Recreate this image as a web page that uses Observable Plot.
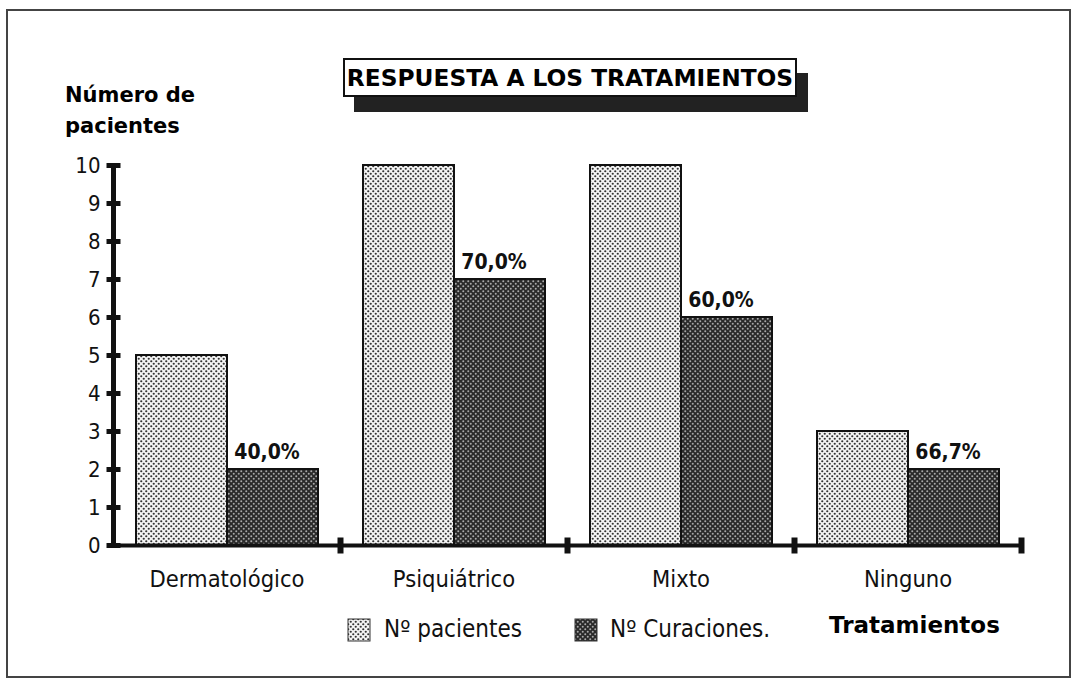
<!DOCTYPE html>
<html>
<head>
<meta charset="utf-8">
<script src="https://cdn.jsdelivr.net/npm/d3@7"></script>
<script src="https://cdn.jsdelivr.net/npm/@observablehq/plot@0.6"></script>
<style>
  body { margin: 0; background: #fff; }
  #wrap { position: relative; width: 1077px; height: 682px; overflow: hidden; background: #fff; }
  #frame { position: absolute; left: 6px; top: 9px; width: 1061px; height: 665px; border: 2px solid #444; }
  #chart { position: absolute; left: 0; top: 0; }
  #titlebox { position: absolute; left: 343px; top: 58px; width: 450px; height: 35px; border: 2px solid #111; background: #fff;
    box-shadow: 11px 15px 0 #222; font-family: "DejaVu Sans", sans-serif; font-weight: bold; font-size: 23.3px;
    line-height: 36px; text-align: center; color: #000; white-space: nowrap; }
  #ylabel { position: absolute; left: 65px; top: 80px; font-family: "DejaVu Sans", sans-serif; font-weight: bold; font-size: 21px; line-height: 31px; color: #000; }
  .leg { position: absolute; font-family: "DejaVu Sans Condensed", sans-serif; font-size: 24px; color: #111; white-space: nowrap; }
  .sw { position: absolute; }
  #xlabel { position: absolute; left: 829px; top: 612px; font-family: "DejaVu Sans", sans-serif; font-weight: bold; font-size: 23px; color: #000; }
</style>
</head>
<body>
<div id="wrap">
  <div id="frame"></div>
  <div id="chart"></div>
  <div id="titlebox"></div>
  <div id="ylabel"></div>
  <div id="legend"></div>
  <div id="xlabel"></div>
</div>
<script>
// ---- data ----
const categories = ["Dermatológico", "Psiquiátrico", "Mixto", "Ninguno"];
const seriesNames = ["Nº pacientes", "Nº Curaciones."];
const pacientes = [5, 10, 10, 3];
const curaciones = [2, 7, 6, 2];
const percentLabels = ["40,0%", "70,0%", "60,0%", "66,7%"];
const yTicks = [0, 1, 2, 3, 4, 5, 6, 7, 8, 9, 10];
const titleText = "RESPUESTA A LOS TRATAMIENTOS";
const yLabelLines = ["Número de", "pacientes"];
const xLabelText = "Tratamientos";

// ---- table built from the arrays ----
const rows = categories.flatMap((c, i) => [
  {cat: c, serie: seriesNames[0], value: pacientes[i]},
  {cat: c, serie: seriesNames[1], value: curaciones[i]}
]);
const labelRows = categories.map((c, i) => ({cat: c, serie: seriesNames[1], value: curaciones[i], label: percentLabels[i]}));

const patIds = ["patLight", "patDark"];

const hBar = {draw(ctx) { ctx.moveTo(-7, -2.5); ctx.lineTo(7, -2.5); ctx.lineTo(7, 2.5); ctx.lineTo(-7, 2.5); ctx.closePath(); }};
const vBar = {draw(ctx) { ctx.moveTo(-3, -8); ctx.lineTo(3, -8); ctx.lineTo(3, 8); ctx.lineTo(-3, 8); ctx.closePath(); }};

const chart = Plot.plot({
  width: 1077,
  height: 682,
  marginLeft: 113,
  marginRight: 56,
  marginTop: 165,
  marginBottom: 137,
  style: {background: "transparent", fontFamily: "DejaVu Sans Condensed, sans-serif", color: "#111"},
  fx: {domain: categories, padding: 0, label: null},
  x: {domain: seriesNames, paddingInner: 0, paddingOuter: 0.234, axis: null},
  y: {domain: [0, 10], axis: null},
  color: {domain: seriesNames, range: patIds.map(id => `url(#${id})`)},
  marks: [
    Plot.axisFx({anchor: "bottom", tickSize: 0, tickPadding: 25, fontSize: 23.5, label: null}),
    Plot.barY(rows, {fx: "cat", x: "serie", y: "value", fill: "serie", stroke: "#111", strokeWidth: 2}),
    Plot.text(labelRows, {fx: "cat", x: "serie", y: "value", text: "label", dy: -17, dx: -6, fontSize: 21, fontWeight: "bold", fill: "#111", textAnchor: "middle"}),
    Plot.ruleY([0], {stroke: "#111", strokeWidth: 4}),
    Plot.dot([0], {y: d => d, frameAnchor: "right", symbol: vBar, r: 4, fill: "#111", stroke: "none"}),
    Plot.frame({anchor: "left", stroke: "#111", strokeWidth: 5, facetAnchor: "left"}),
    Plot.dot(yTicks, {y: d => d, frameAnchor: "left", symbol: hBar, r: 4, fill: "#111", stroke: "none", facetAnchor: "left"}),
    Plot.axisY({ticks: yTicks, tickSize: 0, tickPadding: 13, fontSize: 22, fontFamily: "DejaVu Sans Condensed, sans-serif", label: null})
  ]
});
document.getElementById("chart").appendChild(chart);

// patterns
function addPatterns(svgSel) {
  const defs = svgSel.insert("defs", ":first-child");
  const p1 = defs.append("pattern").attr("id", "patLight").attr("patternUnits", "userSpaceOnUse").attr("width", 5).attr("height", 5);
  p1.append("rect").attr("width", 5).attr("height", 5).attr("fill", "#f4f4f4");
  p1.append("circle").attr("cx", 1.25).attr("cy", 1.25).attr("r", 1.1).attr("fill", "#333");
  p1.append("circle").attr("cx", 3.75).attr("cy", 3.75).attr("r", 1.1).attr("fill", "#333");
  const p2 = defs.append("pattern").attr("id", "patDark").attr("patternUnits", "userSpaceOnUse").attr("width", 5).attr("height", 5);
  p2.append("rect").attr("width", 5).attr("height", 5).attr("fill", "#2a2a2a");
  p2.append("circle").attr("cx", 1.25).attr("cy", 1.25).attr("r", 1.0).attr("fill", "#aaa");
  p2.append("circle").attr("cx", 3.75).attr("cy", 3.75).attr("r", 1.0).attr("fill", "#aaa");
}
addPatterns(d3.select(chart));

// title and labels
document.getElementById("titlebox").textContent = titleText;
document.getElementById("ylabel").innerHTML = yLabelLines.join("<br>");
document.getElementById("xlabel").textContent = xLabelText;

// legend
const legend = d3.select("#legend");
const legPos = [{sx: 347, tx: 384}, {sx: 574, tx: 610}];
seriesNames.forEach((s, i) => {
  const sw = legend.append("svg").attr("class", "sw").attr("width", 24).attr("height", 24)
    .style("left", legPos[i].sx + "px").style("top", "618px");
  sw.append("rect").attr("x", 1).attr("y", 1).attr("width", 22).attr("height", 22)
    .attr("fill", `url(#${patIds[i]})`).attr("stroke", "#333").attr("stroke-width", 1);
  legend.append("div").attr("class", "leg").style("left", legPos[i].tx + "px").style("top", "615px").text(s);
});
</script>
</body>
</html>
